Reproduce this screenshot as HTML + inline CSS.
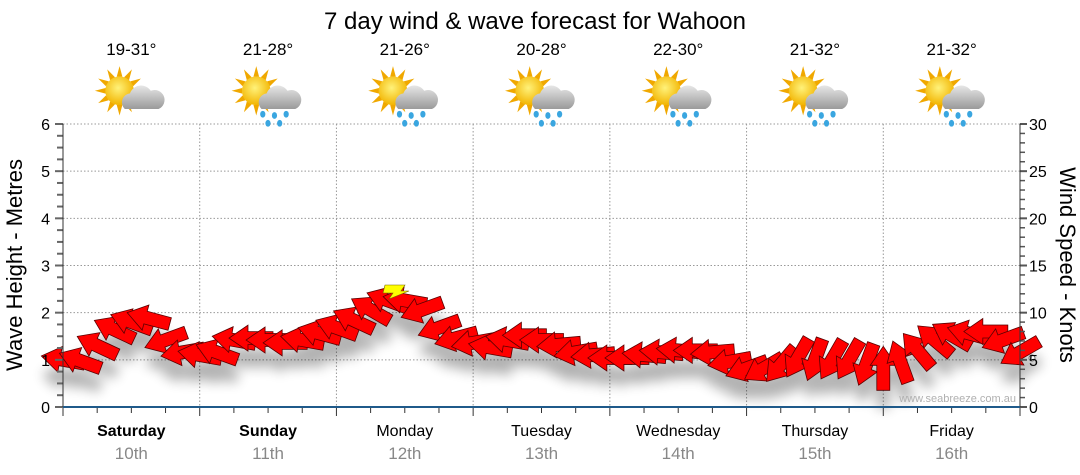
<!DOCTYPE html>
<html><head><meta charset="utf-8"><style>
body{margin:0;background:#fff;}
svg{display:block;font-family:"Liberation Sans",sans-serif;}
</style></head><body>
<svg id="chart" width="1080" height="475" viewBox="0 0 1080 475">
<defs>
<filter id="sh" x="-50%" y="-50%" width="200%" height="250%"><feGaussianBlur stdDeviation="6"/></filter>
<radialGradient id="sun" cx="0.45" cy="0.4" r="0.6"><stop offset="0" stop-color="#fff27a"/><stop offset="1" stop-color="#f2b400"/></radialGradient>
<linearGradient id="cloud" x1="0" y1="0" x2="0" y2="1"><stop offset="0" stop-color="#e6e6e6"/><stop offset="1" stop-color="#9a9a9a"/></linearGradient>
</defs>
<text x="535" y="29" text-anchor="middle" font-size="24" fill="#000">7 day wind &amp; wave forecast for Wahoon</text>
<g id="grid"></g>
<g id="shadows" filter="url(#sh)" opacity="0.3"></g>
<g id="arrows"></g>
<g id="axes"></g>
<g id="topinfo"></g>
<text transform="translate(22,265) rotate(-90)" text-anchor="middle" font-size="22">Wave Height - Metres</text>
<text transform="translate(1060,265) rotate(90)" text-anchor="middle" font-size="22">Wind Speed - Knots</text>
<text x="1016" y="402" text-anchor="end" font-size="11" fill="#b0b0b0">www.seabreeze.com.au</text>
</svg>
<script>
const days=["Saturday","Sunday","Monday","Tuesday","Wednesday","Thursday","Friday"];
const dates=["10th","11th","12th","13th","14th","15th","16th"];
const temps=["19-31°","21-28°","21-26°","20-28°","22-30°","21-32°","21-32°"];
const rainy=[false,true,true,true,true,true,true];
const waveTicks=[0,1,2,3,4,5,6];
const windTicks=[0,5,10,15,20,25,30];
// wind speed (knots), 3-hourly
const windSpeed=[5,4.9,6.5,8.2,9,9.4,7.1,5.8, 5.5,5.8,7.1,7.3,7.1,6.8,7.1,7.8, 8.4,9.2,10.3,11.3,11.3,10.3,8.4,7.3, 6.8,6.3,7.1,7.6,7.1,6.6,5.8,5.5, 5.2,5.2,5.5,5.8,6,6,5.8,4.8, 4.1,4.1,4.5,5.2,5,5,5,4.5, 4.1,4.8,6,7.1,7.6,7.8,8,7.1,5.8];
// arrow rotation (deg, clockwise from pointing left)
const windDir=[10,20,25,25,20,15,-20,-10, 10,20,10,0,0,0,10,15, 20,25,30,20,10,-20,-20,-15, -10,10,10,0,0,-5,-10,-5, 0,0,5,5,5,0,-5,-10, -20,-30,-50,-60,-70,-60,-60,-70, 90,70,50,40,30,15,0,-20,-30];
const X0=63,X1=1020,Y0=407,Y1=124,HOURS=168;
const xH=h=>X0+h*(X1-X0)/HOURS;
const yW=m=>Y0-m*(Y0-Y1)/6;
const yK=k=>Y0-k*(Y0-Y1)/30;
const NS="http://www.w3.org/2000/svg";
function mk(p,t,a){const e=document.createElementNS(NS,t);for(const k in a)e.setAttribute(k,a[k]);p.appendChild(e);return e;}
const gridG=document.getElementById('grid'),axesG=document.getElementById('axes');
waveTicks.forEach(v=>{
 if(v>0){const l=mk(gridG,'line',{x1:X0,x2:X1,y1:yW(v),y2:yW(v),stroke:'#999','stroke-dasharray':'1.5,2'});
 
 }
 const t=mk(axesG,'text',{x:50,y:yW(v)+6,'text-anchor':'end','font-size':16});t.textContent=v;
 
 
});
for(let i=0;i<=24;i++){const y=yW(i/4);mk(axesG,'line',{x1:i%4?57:55,x2:63,y1:y,y2:y,stroke:'#666','stroke-width':2});}
windTicks.forEach(v=>{const t=mk(axesG,'text',{x:1029,y:yK(v)+6,'font-size':16});t.textContent=v;
 
 });
for(let i=0;i<=30;i++){const y=yK(i);mk(axesG,'line',{x1:1020,x2:i%5?1025:1027,y1:y,y2:y,stroke:'#555','stroke-width':i%5?1.5:2});}
mk(axesG,'line',{x1:63,x2:63,y1:124,y2:407,stroke:'#333','stroke-width':1});
mk(axesG,'line',{x1:1020,x2:1020,y1:124,y2:407,stroke:'#333','stroke-width':1});
mk(axesG,'line',{x1:63,x2:1020,y1:407,y2:407,stroke:'#1f5a8a','stroke-width':2});
for(let h=0;h<=HOURS;h+=6){const x=xH(h);mk(axesG,'line',{x1:x,x2:x,y1:408,y2:h%24?413:416,stroke:'#333'});}
const topG=document.getElementById('topinfo');
days.forEach((d,i)=>{
 const cx=xH(i*24+12);
 if(i>0){const l=mk(gridG,'line',{x1:xH(i*24),x2:xH(i*24),y1:124,y2:407,stroke:'#999','stroke-dasharray':'1.5,2'});
 
 }
 const a=mk(axesG,'text',{x:cx,y:436,'text-anchor':'middle','font-size':16,'font-weight':i<2?'bold':'normal'});a.textContent=d;
 
 
 const b=mk(axesG,'text',{x:cx,y:459,'text-anchor':'middle','font-size':17,fill:'#888'});b.textContent=dates[i];
 
 
 const t=mk(topG,'text',{x:cx,y:55,'text-anchor':'middle','font-size':17});t.textContent=temps[i];
 
 
 const g=mk(topG,'g',{transform:`translate(${cx-4},96) scale(1.3)`});
 
 
 for(let r=0;r<12;r++){const an=r*30*Math.PI/180;mk(g,'polygon',{points:`${-6+Math.cos(an)*19},${-4+Math.sin(an)*19} ${-6+Math.cos(an+0.2)*11},${-4+Math.sin(an+0.2)*11} ${-6+Math.cos(an-0.2)*11},${-4+Math.sin(an-0.2)*11}`,fill:'#f0a800'});}
 mk(g,'circle',{cx:-6,cy:-4,r:11,fill:'url(#sun)'});
 mk(g,'path',{d:'M-2,10 a7,7 0 0 1 4,-12 a9,9 0 0 1 16,-2 a7,7 0 0 1 6,14 z',fill:'url(#cloud)'});
 if(rainy[i]){[[-1,14],[8,15],[17,14],[3,21],[12,21]].forEach(p=>mk(g,'ellipse',{cx:p[0],cy:p[1],rx:2,ry:2.6,fill:'#3aa6e0'}));}
});
const arrowsG=document.getElementById('arrows'),shG=document.getElementById('shadows');
const shape='M-22,0 L-3,-13 L-3,-6.5 L22,-6.5 L22,6.5 L-3,6.5 L-3,13 Z';
windSpeed.forEach((k,i)=>{
 const x=xH(i*3),y=yK(k),r=windDir[i];
 mk(shG,'path',{d:shape,transform:`translate(${x},${y+18}) rotate(${r})`,fill:'#000'});
 const p=mk(arrowsG,'path',{d:shape,transform:`translate(${x},${y}) rotate(${r})`,fill:'#ff0000',stroke:'#5a0000','stroke-width':0.8});
 
 
});
const m=mk(arrowsG,'path',{d:'M-10,-6 L10,-6 L6,0 L14,0 L-6,8 L-2,2 L-12,2 Z',transform:`translate(395,291)`,fill:'#ffff00',stroke:'#776600','stroke-width':0.6});


mk(arrowsG,'circle',{cx:1032,cy:358,r:3,fill:'#fff',stroke:'#666'});
</script>
</body></html>
